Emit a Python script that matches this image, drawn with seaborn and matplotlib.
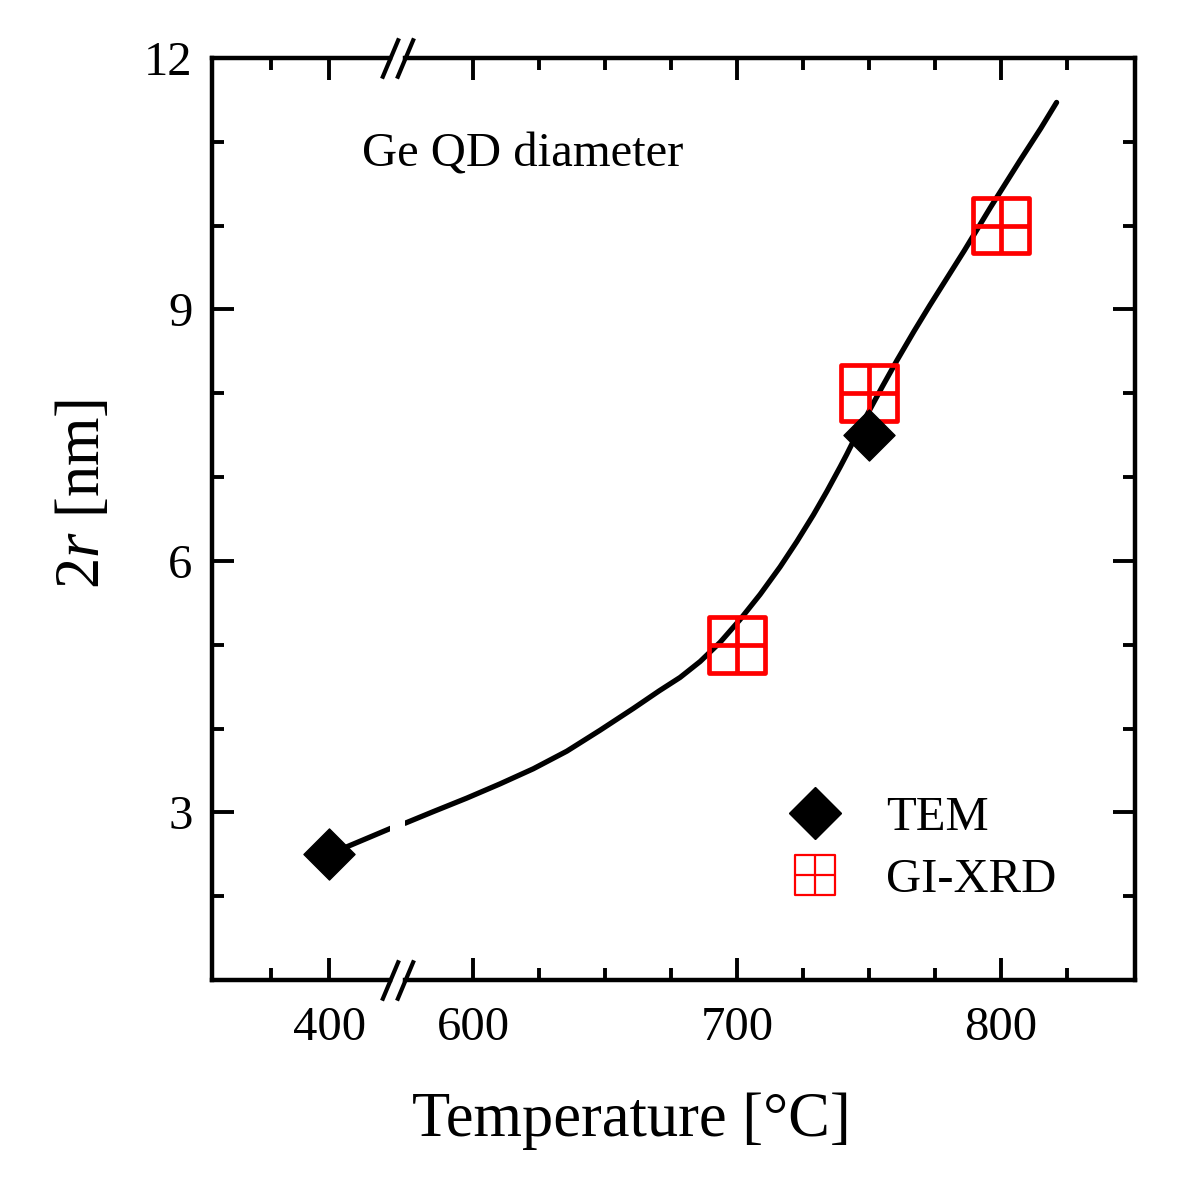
import matplotlib
matplotlib.use("Agg")
import matplotlib.pyplot as plt
import seaborn as sns
from matplotlib.path import Path
from matplotlib.lines import Line2D
from matplotlib.ticker import FixedLocator, MultipleLocator

# measured diameters
tem_temp = [400, 750]
tem_size = [2.5, 7.5]
xrd_temp = [700, 750, 800]
xrd_size = [5.0, 8.0, 10.0]

# guide-to-the-eye curve (left / right of the axis break)
fit_low_temp = [400, 460]
fit_low_size = [2.5, 2.85]
fit_high_temp = [574.2, 585, 597.6, 610.2, 622.8, 635.5, 648.1, 660.7, 670.5, 678.4,
                 686, 693.6, 701.1, 708.7, 716.3, 722.6, 728.9, 734, 739, 741.5, 745,
                 750, 755, 760.5, 767, 773, 780, 786, 791, 796, 802, 807, 815, 821]
fit_high_size = [2.87, 3.01, 3.17, 3.34, 3.52, 3.73, 3.98, 4.24, 4.45, 4.61,
                 4.80, 5.03, 5.30, 5.60, 5.93, 6.23, 6.55, 6.83, 7.12, 7.27, 7.49,
                 7.79, 8.08, 8.39, 8.74, 9.05, 9.40, 9.70, 9.96, 10.22, 10.52, 10.77, 11.16, 11.47]

low_major = [400]
low_minor = [350]
high_major = [600, 700, 800]
high_minor = [625, 650, 675, 725, 750, 775, 825]

sns.set_theme(style="ticks")
plt.rcParams["font.family"] = ["Liberation Serif", "DejaVu Serif"]
plt.rcParams["mathtext.fontset"] = "custom"
plt.rcParams["mathtext.rm"] = "Liberation Serif"
plt.rcParams["mathtext.it"] = "Liberation Serif:italic"
plt.rcParams["axes.linewidth"] = 3.2
plt.rcParams["text.color"] = "black"
plt.rcParams["axes.labelcolor"] = "black"
plt.rcParams["xtick.color"] = "black"
plt.rcParams["ytick.color"] = "black"

W, H = 1200, 1195
fig = plt.figure(figsize=(W / 100, H / 100), dpi=100)
ax_l = fig.add_axes([212 / W, 215 / H, 178 / W, 922 / H])
ax_r = fig.add_axes([405 / W, 215 / H, 730 / W, 922 / H], sharey=ax_l)

# square-with-cross marker used for GI-XRD
grid_marker = Path(
    [(-1, -1), (1, -1), (1, 1), (-1, 1), (-1, -1), (0, -1), (0, 1), (-1, 0), (1, 0)],
    [Path.MOVETO, Path.LINETO, Path.LINETO, Path.LINETO, Path.CLOSEPOLY,
     Path.MOVETO, Path.LINETO, Path.MOVETO, Path.LINETO])

# curve
sns.lineplot(x=fit_low_temp, y=fit_low_size, ax=ax_l, color="black", lw=3.8,
             estimator=None, sort=False, zorder=2, solid_joinstyle="round")
sns.lineplot(x=fit_high_temp, y=fit_high_size, ax=ax_r, color="black", lw=3.8,
             estimator=None, sort=False, zorder=2, solid_joinstyle="round")

for ax in (ax_l, ax_r):
    sns.scatterplot(x=xrd_temp, y=xrd_size, ax=ax, marker=grid_marker, s=40 ** 2,
                    color="red", facecolor="none", edgecolor="red", linewidth=3.4,
                    zorder=3, legend=False)
    sns.scatterplot(x=tem_temp, y=tem_size, ax=ax, marker="D", s=26 ** 2,
                    color="black", edgecolor="black", linewidth=1, zorder=4, legend=False)

ax_l.set_xlim(299, 452.5)
ax_r.set_xlim(574.2, 850.7)
ax_l.set_ylim(1, 12)

ax_l.xaxis.set_major_locator(FixedLocator(low_major))
ax_l.xaxis.set_minor_locator(FixedLocator(low_minor))
ax_r.xaxis.set_major_locator(FixedLocator(high_major))
ax_r.xaxis.set_minor_locator(FixedLocator(high_minor))
ax_l.yaxis.set_major_locator(MultipleLocator(3))
ax_l.yaxis.set_minor_locator(MultipleLocator(1))

for ax in (ax_l, ax_r):
    ax.tick_params(which="both", direction="in", top=True, bottom=True, width=2.8,
                   labelsize=35, colors="black")
    ax.tick_params(which="major", length=16)
    ax.tick_params(which="minor", length=8.5)
    ax.tick_params(axis="x", pad=19)
    ax.tick_params(axis="y", pad=14)
    for sp in ax.spines.values():
        sp.set_color("black")

ax_l.tick_params(axis="y", which="both", left=True, right=False)
ax_l.spines["right"].set_visible(False)
ax_r.tick_params(axis="y", which="both", left=False, right=True, labelleft=False)
ax_r.spines["left"].set_visible(False)

# break marks
brk = dict(marker=[(-0.42, -1), (0.42, 1)], markersize=29, linestyle="none",
           color="black", mec="black", mew=3, clip_on=False, zorder=10)
ax_l.plot([1, 1], [0, 1], transform=ax_l.transAxes, **brk)
ax_r.plot([0, 0], [0, 1], transform=ax_r.transAxes, **brk)

ax_l.set_ylabel("2$\\mathit{r}$ [nm]", fontsize=45)
ax_l.yaxis.set_label_coords(-0.557, 0.527)
ax_l.set_xlabel("")
ax_r.set_xlabel("Temperature [°C]", fontsize=45)
ax_r.xaxis.set_label_coords(0.3096, -0.121)

fig.text(362 / W, (H - 167) / H, "Ge QD diameter", fontsize=35, va="baseline", ha="left")

tem_handle = Line2D([], [], marker="D", ls="none", color="black", markersize=26,
                    mec="black", mew=1)
xrd_handle = Line2D([], [], marker=grid_marker, ls="none", mfc="none", mec="red",
                    markersize=29, mew=1.6)
ax_r.legend([tem_handle, xrd_handle], ["TEM", "GI-XRD"], loc="upper left",
            bbox_to_anchor=(791 / W, (H - 796) / H), bbox_transform=fig.transFigure,
            frameon=False, fontsize=35, handlelength=1.0, handletextpad=0.95,
            labelspacing=0.36, borderpad=0, borderaxespad=0, numpoints=1)

fig.savefig("out.png", dpi=100)
